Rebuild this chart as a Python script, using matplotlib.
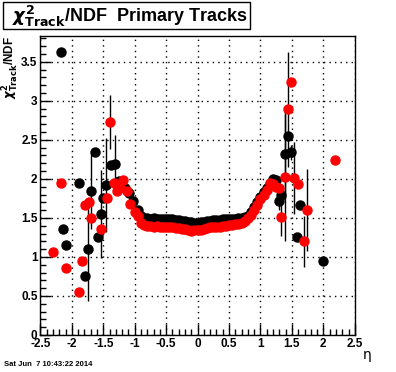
import numpy as np
import matplotlib
matplotlib.use("Agg")
import matplotlib.pyplot as plt
from matplotlib.patches import Rectangle
from matplotlib.ticker import MultipleLocator

# black series (eta, chi2/ndf, error)
eta_black = [-2.18, -2.14, -2.09, -1.88, -1.79, -1.74, -1.69, -1.63, -1.59, -1.53,
             -1.50, -1.45, -1.38, -1.32, -1.25, -1.15, -1.09, -1.03,
             -0.95, -0.90, -0.85, -0.80, -0.75, -0.70, -0.65, -0.60, -0.55, -0.50,
             -0.45, -0.40, -0.35, -0.30, -0.25, -0.20, -0.15, -0.10, -0.05, 0.00,
             0.05, 0.10, 0.15, 0.20, 0.25, 0.30, 0.35, 0.40, 0.45, 0.50,
             0.55, 0.60, 0.65, 0.70, 0.75, 0.80, 0.85, 0.90, 0.95, 1.00,
             1.05, 1.10, 1.15, 1.20, 1.25, 1.29, 1.33, 1.39, 1.44, 1.49,
             1.58, 1.625, 2.00]
chi_black = [3.63, 1.355, 1.15, 1.945, 0.75, 1.10, 1.84, 2.34, 1.25, 1.55,
             1.75, 1.92, 2.18, 2.19, 1.97, 1.88, 1.82, 1.72,
             1.60, 1.53, 1.50, 1.50, 1.49, 1.50, 1.49, 1.49, 1.49, 1.48,
             1.48, 1.48, 1.47, 1.47, 1.46, 1.46, 1.45, 1.45, 1.44, 1.44,
             1.45, 1.45, 1.46, 1.46, 1.47, 1.47, 1.47, 1.48, 1.48, 1.48,
             1.49, 1.49, 1.50, 1.50, 1.51, 1.53, 1.58, 1.64, 1.71, 1.77,
             1.83, 1.88, 1.94, 2.00, 1.98, 1.72, 1.79, 2.32, 2.55, 2.34,
             1.26, 1.66, 0.95]
err_black = [0.02, 0.02, 0.02, 0.02, 0.02, 0.66, 0.48, 0.02, 0.02, 0.56,
             0.02, 0.60, 0.05, 0.37, 0.02, 0.02, 0.02, 0.02] + [0.01] * 40 + \
            [0.01, 0.01, 0.01, 0.01, 0.02, 0.12, 0.10, 0.57, 0.02, 0.10,
             0.02, 0.02, 0.02]

# red series
eta_red = [-2.30, -2.18, -2.09, -1.88, -1.84, -1.79, -1.73, -1.69, -1.53, -1.44,
           -1.39, -1.33, -1.28, -1.23, -1.19, -1.12, -1.08, -1.00,
           -0.95, -0.90, -0.85, -0.80, -0.75, -0.70, -0.65, -0.60, -0.55, -0.50,
           -0.45, -0.40, -0.35, -0.30, -0.25, -0.20, -0.15, -0.10, -0.05, 0.00,
           0.05, 0.10, 0.15, 0.20, 0.25, 0.30, 0.35, 0.40, 0.45, 0.50,
           0.55, 0.60, 0.65, 0.70, 0.75, 0.80, 0.85, 0.90, 0.95, 1.00,
           1.05, 1.10, 1.15, 1.20, 1.25, 1.29, 1.33, 1.39, 1.44, 1.48,
           1.53, 1.59, 1.69, 1.74, 2.19]
chi_red = [1.06, 1.945, 0.855, 0.55, 0.95, 1.66, 1.70, 1.50, 1.355, 1.76,
           2.73, 1.95, 1.84, 1.90, 1.99, 1.85, 1.68, 1.58,
           1.52, 1.43, 1.41, 1.40, 1.40, 1.39, 1.40, 1.39, 1.39, 1.38,
           1.39, 1.38, 1.37, 1.37, 1.36, 1.36, 1.34, 1.33, 1.34, 1.35,
           1.35, 1.36, 1.37, 1.38, 1.38, 1.39, 1.39, 1.40, 1.40, 1.41,
           1.41, 1.42, 1.42, 1.44, 1.46, 1.50, 1.54, 1.60, 1.67, 1.74,
           1.80, 1.86, 1.95, 1.93, 1.90, 1.88, 1.51, 2.02, 2.89, 3.24,
           2.01, 1.94, 1.20, 1.60, 2.24]
err_red = [0.02] * 10 + [0.35] + [0.02] * 7 + [0.01] * 40 + \
          [0.01, 0.01, 0.01, 0.01, 0.01, 0.01, 0.24, 0.81, 0.74, 0.05,
           0.46, 0.02, 0.33, 0.53, 0.02]

plt.rcParams['font.family'] = ['Liberation Sans', 'DejaVu Sans']
plt.rcParams['font.weight'] = 'bold'

fig = plt.figure(figsize=(3.96, 3.72), dpi=100)
ax = fig.add_axes([0.102, 0.0995, 0.794, 0.8035])

ax.errorbar(eta_black, chi_black, yerr=err_black, fmt='o', color='black',
            ms=6.5, elinewidth=1, capsize=0, zorder=3)
ax.errorbar(eta_red, chi_red, yerr=err_red, fmt='o', color='red', ecolor='black',
            ms=6.5, elinewidth=1, capsize=0, zorder=4)

ax.set_xlim(-2.5, 2.5)
ax.set_ylim(0, 3.83)
ax.xaxis.set_minor_locator(MultipleLocator(0.1))
ax.yaxis.set_minor_locator(MultipleLocator(0.1))
ax.set_yticks(np.arange(0, 3.6, 0.5))
ax.set_yticklabels(['0', '0.5', '1', '1.5', '2', '2.5', '3', '3.5'])
ax.set_xticks(np.arange(-2.5, 2.6, 0.5))
ax.set_xticklabels(['-2.5', '-2', '-1.5', '-1', '-0.5', '0', '0.5', '1', '1.5', '2', '2.5'])
ax.tick_params(which='both', direction='in', top=False, right=False,
               labelsize=8.5, width=1)
ax.tick_params(which='major', length=8, pad=2)
ax.tick_params(which='minor', length=4)
ax.grid(True, which='major', color='black', linestyle=(0, (1, 3)), linewidth=1)
ax.set_axisbelow(True)
for s in ax.spines.values():
    s.set_linewidth(1)

ax.set_ylabel(r'$\chi^{\mathbf{2}}_{\mathbf{Track}}$/NDF', loc='top', fontsize=8.5,
              fontweight='bold')
ax.yaxis.set_label_coords(-0.062, 1.0)

# title box
fig.patches.append(Rectangle((3 / 396, 1 - 29 / 372), 247 / 396, 27 / 372,
                             transform=fig.transFigure, facecolor='white',
                             edgecolor='black', linewidth=1))
fig.text(12 / 396, 1 - 16 / 372,
         r'$\chi^{\mathbf{2}}_{\mathbf{Track}}$/NDF  Primary Tracks',
         fontsize=13, fontweight='bold', va='center', ha='left')

fig.text(367 / 396, 1 - 355 / 372, 'η', family='DejaVu Sans', fontweight='normal',
         fontsize=10, ha='center', va='center')
fig.text(4 / 396, 1 - 365 / 372, 'Sat Jun  7 10:43:22 2014', fontsize=5.5,
         fontweight='bold', ha='left', va='center')

fig.savefig('out.png', dpi=100)
